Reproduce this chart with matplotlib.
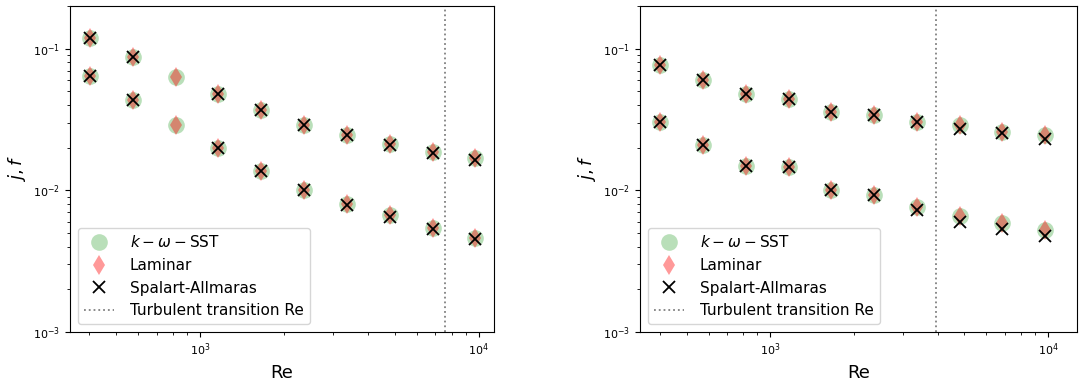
import numpy as np
import matplotlib.pyplot as plt

# ======================
# Data
# ======================
re = [405, 577, 820, 1166, 1660, 2371, 3381, 4806, 6840, 9680]
re_right = [402, 574, 820, 1173, 1660, 2371, 3375, 4801, 6840, 9775]

# left panel
left_f_sst = [0.119, 0.0869, 0.063, 0.0476, 0.0366, 0.0290, 0.0244, 0.0211, 0.0185, 0.0168]
left_f_lam = [0.119, 0.0869, 0.063, 0.0476, 0.0366, 0.0290, 0.0244, 0.0211, 0.0185, 0.0168]
left_f_sa = [0.119, 0.0869, np.nan, 0.0476, 0.0366, 0.0290, 0.0244, 0.0209, 0.0183, 0.0163]
left_j_sst = [0.0642, 0.0437, 0.0290, 0.0199, 0.0137, 0.01005, 0.00796, 0.00665, 0.00540, 0.00461]
left_j_lam = [0.0642, 0.0437, 0.0290, 0.0199, 0.0137, 0.01005, 0.00796, 0.00665, 0.00545, 0.00461]
left_j_sa = [0.0642, 0.0437, np.nan, 0.0199, 0.0137, 0.01005, 0.00790, 0.00650, 0.00535, 0.00455]
left_transition = 7570

# right panel
right_f_sst = [0.0771, 0.0605, 0.0476, 0.0443, 0.0356, 0.0341, 0.0306, 0.0287, 0.0260, 0.0247]
right_f_lam = [0.0771, 0.0605, 0.0476, 0.0443, 0.0356, 0.0341, 0.0306, 0.0287, 0.0260, 0.0247]
right_f_sa = [0.0771, 0.0605, 0.0476, 0.0443, 0.0356, 0.0341, 0.0304, 0.0272, 0.0252, 0.0229]
right_j_sst = [0.0305, 0.0210, 0.0148, 0.0147, 0.01005, 0.00922, 0.00764, 0.00659, 0.00586, 0.00526]
right_j_lam = [0.0305, 0.0210, 0.0148, 0.0147, 0.01005, 0.00922, 0.00764, 0.00659, 0.00586, 0.00526]
right_j_sa = [0.0305, 0.0210, 0.0148, 0.0147, 0.01005, 0.00922, 0.00726, 0.00598, 0.00531, 0.00476]
right_transition = 3945


def draw_panel(ax, x, f_sst, j_sst, f_lam, j_lam, f_sa, j_sa, transition, xlim):
    ax.plot(x, f_sst, 'o', color='tab:green', alpha=0.33, markersize=12, markeredgewidth=0,
            label=r'$k-\omega-$SST')
    ax.plot(x, j_sst, 'o', color='tab:green', alpha=0.33, markersize=12, markeredgewidth=0)
    ax.plot(x, f_lam, 'd', color='red', alpha=0.4, markersize=10, markeredgewidth=0,
            label='Laminar')
    ax.plot(x, j_lam, 'd', color='red', alpha=0.4, markersize=10, markeredgewidth=0)
    ax.plot(x, f_sa, 'x', color='black', markersize=8, markeredgewidth=1.3,
            label='Spalart-Allmaras')
    ax.plot(x, j_sa, 'x', color='black', markersize=8, markeredgewidth=1.3)
    ax.axvline(transition, color='gray', linestyle=':', linewidth=1.3,
               label='Turbulent transition Re')

    ax.set_xscale('log')
    ax.set_yscale('log')
    ax.set_xlim(*xlim)
    ax.set_ylim(1e-3, 0.2)
    ax.tick_params(labelsize=8)
    ax.set_xlabel('Re', fontsize=13)
    ax.set_ylabel(r'$j, f$', fontsize=13)
    ax.legend(loc='lower left', fontsize=11, handletextpad=1.0)


fig = plt.figure(figsize=(10.79, 3.82), dpi=100)
ax1 = fig.add_axes([70 / 1079, 50 / 382, 424 / 1079, 326 / 382])
ax2 = fig.add_axes([640 / 1079, 50 / 382, 437 / 1079, 326 / 382])

draw_panel(ax1, re, left_f_sst, left_j_sst, left_f_lam, left_j_lam,
           left_f_sa, left_j_sa, left_transition, (342, 11350))
draw_panel(ax2, re_right, right_f_sst, right_j_sst, right_f_lam, right_j_lam,
           right_f_sa, right_j_sa, right_transition, (340, 12700))

fig.savefig('out.png', dpi=100)
